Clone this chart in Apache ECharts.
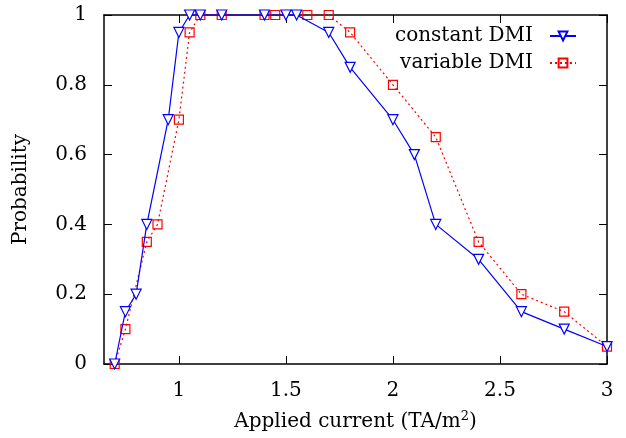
<!DOCTYPE html>
<html>
<head>
<meta charset="utf-8">
<script src="https://cdn.jsdelivr.net/npm/echarts@6/dist/echarts.min.js"></script>
<style>html,body{margin:0;padding:0;background:#fff}#c{width:626px;height:438px}</style>
</head>
<body>
<div id="c"></div>
<script>
var constX = [0.7,0.75,0.8,0.85,0.95,1.0,1.05,1.1,1.2,1.4,1.5,1.55,1.7,1.8,2.0,2.1,2.2,2.4,2.6,2.8,3.0];
var constY = [0,0.15,0.2,0.4,0.7,0.95,1,1,1,1,1,1,0.95,0.85,0.7,0.6,0.4,0.3,0.15,0.1,0.05];
var varX = [0.7,0.75,0.85,0.9,1.0,1.05,1.1,1.2,1.4,1.45,1.6,1.7,1.8,2.0,2.2,2.4,2.6,2.8,3.0];
var varY = [0,0.1,0.35,0.4,0.7,0.95,1,1,1,1,1,1,0.95,0.8,0.65,0.35,0.2,0.15,0.05];
var xTicks = [1,1.5,2,2.5,3];
var seriesNames = ['constant DMI','variable DMI'];

function pairs(xs, ys){ return xs.map(function(x,i){ return [x, ys[i]]; }); }

var FONT = 'DejaVu Serif';
var FS = 20;
var chart = echarts.init(document.getElementById('c'), null, {renderer:'canvas'});
var axisCommon = {
  axisLine:{show:true, onZero:false, lineStyle:{color:'#000', width:1.5}},
  splitLine:{show:false}
};
chart.setOption({
  animation:false,
  textStyle:{fontFamily:FONT},
  grid:{left:104, right:19, top:15, bottom:74, containLabel:false},
  legend:{
    orient:'vertical', right:44, top:21, align:'right', itemGap:7,
    itemWidth:26, itemHeight:11,
    textStyle:{fontFamily:FONT, fontSize:FS, color:'#000', padding:[0,12,0,0]},
    data:seriesNames
  },
  xAxis:[
    Object.assign({type:'value', min:0.65, max:3, position:'bottom',
      axisTick:{show:true, inside:true, length:8, customValues:xTicks, lineStyle:{color:'#000'}},
      axisLabel:{show:true, customValues:xTicks, margin:17, color:'#000', fontFamily:FONT, fontSize:FS,
        formatter:function(v){return String(v);}},
      name:'Applied current (TA/m{sup|2})', nameLocation:'middle', nameGap:46,
      nameTextStyle:{fontFamily:FONT, fontSize:FS, color:'#000',
        rich:{sup:{fontFamily:FONT, fontSize:13, color:'#000', verticalAlign:'top', padding:[0,0,10,0]}}}
    }, axisCommon),
    Object.assign({type:'value', min:0.65, max:3, position:'top',
      axisTick:{show:true, inside:true, length:8, customValues:xTicks, lineStyle:{color:'#000'}},
      axisLabel:{show:false}
    }, axisCommon)
  ],
  yAxis:[
    Object.assign({type:'value', min:0, max:1, interval:0.2, position:'left',
      axisTick:{show:true, inside:true, length:8, lineStyle:{color:'#000'}},
      axisLabel:{show:true, margin:17, color:'#000', fontFamily:FONT, fontSize:FS},
      name:'Probability', nameLocation:'middle', nameGap:73, nameRotate:90,
      nameTextStyle:{fontFamily:FONT, fontSize:FS, color:'#000'}
    }, axisCommon),
    Object.assign({type:'value', min:0, max:1, interval:0.2, position:'right',
      axisTick:{show:true, inside:true, length:8, lineStyle:{color:'#000'}},
      axisLabel:{show:false}
    }, axisCommon)
  ],
  series:[
    {
      name:seriesNames[0], type:'line', xAxisIndex:0, yAxisIndex:0,
      data:pairs(constX, constY), clip:false,
      symbol:'triangle', symbolRotate:180, symbolSize:10,
      itemStyle:{color:'#fff', borderColor:'#0000ff', borderWidth:1.2},
      lineStyle:{color:'#0000ff', width:1.2, type:'solid'},
      z:3
    },
    {
      name:seriesNames[1], type:'line', xAxisIndex:0, yAxisIndex:0,
      data:pairs(varX, varY), clip:false,
      symbol:'rect', symbolSize:9,
      itemStyle:{color:'rgba(255,255,255,0)', borderColor:'#ff0000', borderWidth:1.2},
      lineStyle:{color:'#ff0000', width:1.2, type:[2,3]},
      z:2
    }
  ]
});
</script>
</body>
</html>
